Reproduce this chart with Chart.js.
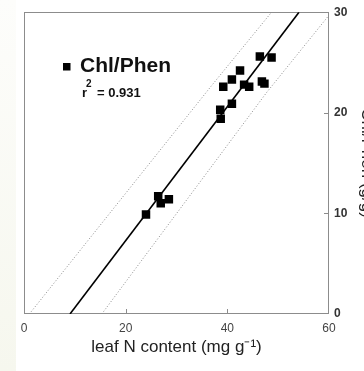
<!DOCTYPE html>
<html><head><meta charset="utf-8">
<script src="https://cdn.jsdelivr.net/npm/chart.js@4.4.1/dist/chart.umd.min.js"></script>
<style>
html,body{margin:0;padding:0;overflow:hidden;background:#fff;width:364px;height:371px;}
#strip{position:absolute;left:0;top:0;width:16px;height:371px;background:linear-gradient(#fdfdfb,#f6f7ee);}
canvas{position:absolute;left:0;top:0;}
</style></head><body>
<div id="strip"></div>
<canvas id="c" width="380" height="371"></canvas>
<script>
// ---- data ----
const seriesName = "Chl/Phen";
const rLabel = "r";
const rSup = "2";
const rValue = "= 0.931";
const leafN   = [24.0, 26.4, 26.9, 28.5, 38.7, 38.6, 40.9, 39.2, 40.9, 42.5, 43.3, 44.3, 46.4, 48.7, 46.8, 47.3];
const chlPhen = [9.9, 11.7, 11.0, 11.4, 19.4, 20.3, 20.9, 22.6, 23.3, 24.2, 22.8, 22.6, 25.6, 25.5, 23.1, 22.9];
const fitX = [9.05, 54.1];
const fitY = [0, 30];
const upperX = [1.05, 36.9, 48.7];
const upperY = [0, 22.7, 30];
const lowerX = [15.3, 47.7, 60];
const lowerY = [0, 22, 29.7];
const xTicks = [0, 20, 40, 60];
const yTicks = [0, 10, 20, 30];
const xTitle = "leaf N content (mg g\u207B\u00B9)";
const yTitle = "Chl/Phen (g/g)";

const pts = (xs, ys) => xs.map((x, i) => ({x: x, y: ys[i]}));
const FONT = "'Liberation Sans', Arial, sans-serif";

const framePlugin = {
  id: 'frame',
  beforeDatasetsDraw(chart) {
    const {ctx, chartArea: a, scales} = chart;
    ctx.save();
    ctx.strokeStyle = '#8c8c8c';
    ctx.lineWidth = 1;
    ctx.strokeRect(Math.round(a.left) + 0.5, Math.round(a.top) + 0.5,
                   Math.round(a.right - a.left) - 1, Math.round(a.bottom - a.top) - 1);
    ctx.beginPath();
    xTicks.slice(1, -1).forEach(v => {
      const px = Math.round(scales.x.getPixelForValue(v)) + 0.5;
      ctx.moveTo(px, a.bottom); ctx.lineTo(px, a.bottom - 5);
    });
    yTicks.slice(1, -1).forEach(v => {
      const py = Math.round(scales.y.getPixelForValue(v)) + 0.5;
      ctx.moveTo(a.right, py); ctx.lineTo(a.right - 5, py);
    });
    ctx.stroke();
    ctx.restore();
  },
  afterDraw(chart) {
    const ctx = chart.ctx;
    ctx.save();
    ctx.fillStyle = '#000';
    ctx.fillRect(63, 63, 7.5, 7.5);
    ctx.fillStyle = '#111';
    ctx.textBaseline = 'middle';
    ctx.font = "bold 21px " + FONT;
    ctx.fillText(chart.data.datasets[0].label, 80, 66);
    ctx.font = "bold 13px " + FONT;
    ctx.fillText(rLabel, 82, 93);
    ctx.font = "bold 10px " + FONT;
    ctx.fillText(rSup, 86, 84);
    ctx.font = "bold 13px " + FONT;
    ctx.fillText(rValue, 97, 93);
    ctx.restore();
  }
};

new Chart(document.getElementById('c'), {
  type: 'scatter',
  data: {
    datasets: [
      {label: seriesName, data: pts(leafN, chlPhen), pointStyle: 'rect', pointRadius: 6,
       backgroundColor: '#000', borderColor: '#000', borderWidth: 0, order: 0},
      {type: 'line', label: 'fit', data: pts(fitX, fitY), borderColor: '#000', borderWidth: 1.6,
       pointRadius: 0, fill: false, order: 1},
      {type: 'line', label: 'upper', data: pts(upperX, upperY), borderColor: '#8a8a8a', borderWidth: 1,
       borderDash: [1, 2], pointRadius: 0, fill: false, order: 2},
      {type: 'line', label: 'lower', data: pts(lowerX, lowerY), borderColor: '#8a8a8a', borderWidth: 1,
       borderDash: [1, 2], pointRadius: 0, fill: false, order: 2}
    ]
  },
  options: {
    responsive: false,
    animation: false,
    devicePixelRatio: 1,
    layout: {padding: {left: 24, top: 10, right: 0, bottom: 0}},
    plugins: {legend: {display: false}, tooltip: {enabled: false}},
    scales: {
      x: {
        type: 'linear', position: 'bottom', min: 0, max: 60,
        afterBuildTicks: s => { s.ticks = xTicks.map(v => ({value: v})); },
        afterFit: s => { s.height = 57; },
        grid: {display: false, drawTicks: false, tickLength: 0}, border: {display: false},
        ticks: {padding: 7, color: '#444', font: {family: FONT, size: 12}},
        title: {display: true, text: xTitle, color: '#222', font: {family: FONT, size: 17},
                padding: {top: 0, bottom: 13}}
      },
      y: {
        type: 'linear', position: 'right', min: 0, max: 30,
        afterBuildTicks: s => { s.ticks = yTicks.map(v => ({value: v})); },
        afterFit: s => { s.width = 51; },
        grid: {display: false, drawTicks: false, tickLength: 0}, border: {display: false},
        ticks: {padding: 5, color: '#333', font: {family: FONT, size: 12, weight: 'bold'}},
        title: {display: true, text: yTitle, color: '#222', font: {family: FONT, size: 17},
                padding: {top: 3, bottom: 0}}
      }
    }
  },
  plugins: [framePlugin]
});
</script>
</body></html>
